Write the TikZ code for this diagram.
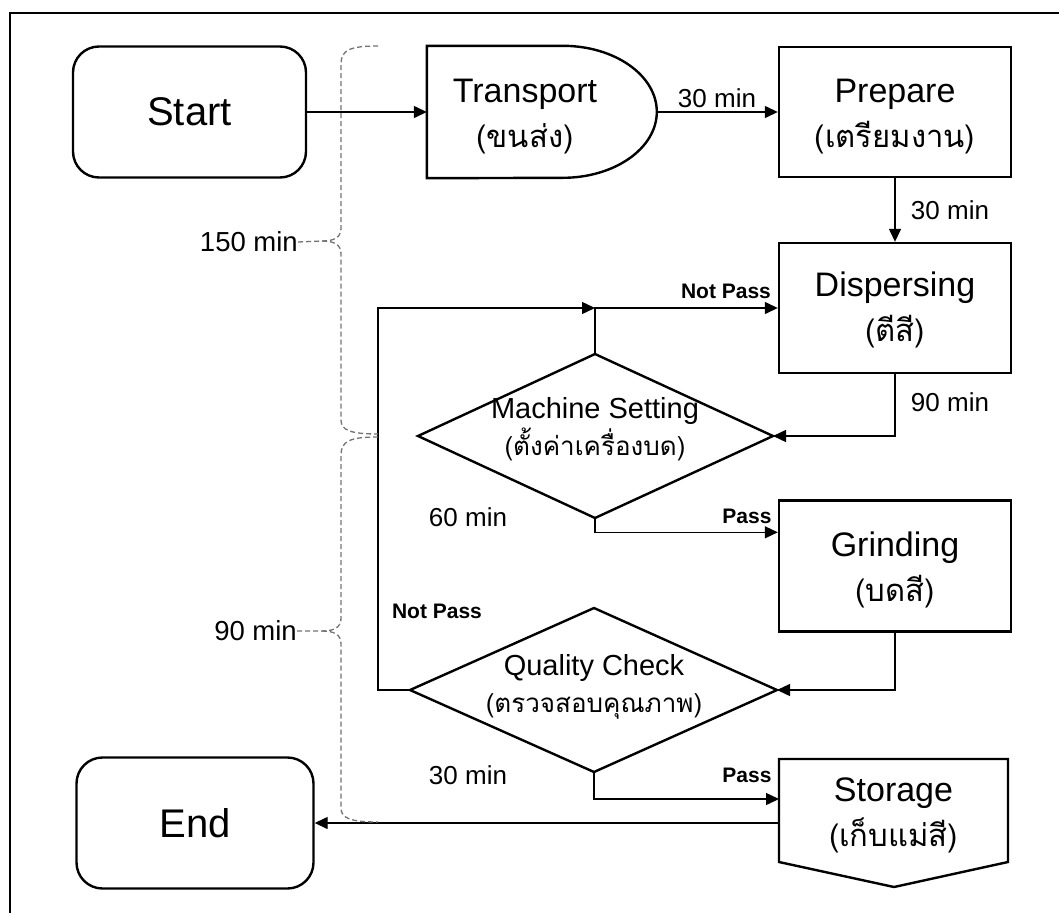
\documentclass[tikz,border=0pt]{standalone}
\usepackage{fontspec}
\setmainfont{Liberation Sans}
\newfontfamily\thaifont[Script=Thai]{Loma}
\usetikzlibrary{arrows.meta,calc}

\newcommand\termfont{\fontsize{40}{46}\selectfont}
\newcommand\bxfont{\fontsize{34}{45}\selectfont}
\newcommand\dmfont{\fontsize{29}{37}\selectfont}
\newcommand\minfont{\fontsize{26}{28}\selectfont}
\newcommand\bracefont{\fontsize{27.5}{30}\selectfont}
\newcommand\passfont{\fontsize{21}{24}\selectfont\bfseries}
\newcommand\thl[2]{{\thaifont\fontsize{#1}{#1}\selectfont #2}}

\begin{document}
\begin{tikzpicture}[x=1pt,y=-1pt,
  frame/.style={line width=2.6pt},
  shapeline/.style={line width=2.4pt, line join=miter},
  boxnode/.style={draw, line width=2.4pt, minimum width=232pt, minimum height=130pt, inner sep=0pt},
  termnode/.style={draw, line width=2.4pt, rounded corners=26pt, inner sep=0pt, font=\termfont},
  boxtext/.style={align=center, inner sep=0pt, font=\bxfont},
  dmtext/.style={align=center, inner sep=0pt, font=\dmfont},
  flow/.style={line width=1.4pt, -{Triangle[length=13pt,width=12pt]}},
  brace/.style={draw=black!55, dash pattern=on 5pt off 3pt, line width=1.3pt},
  tlabel/.style={font=\minfont, inner sep=0pt},
  blabel/.style={font=\bracefont, inner sep=0pt, anchor=east},
  plabel/.style={font=\passfont, inner sep=0pt}]

\useasboundingbox (0,0) rectangle (1059,913);

% outer frame
\draw[frame] (10,913) -- (10,13) -- (1059,13);

% terminals
\node[termnode, minimum width=233pt, minimum height=131pt] (start) at (189.5,112) {Start};
\node[termnode, minimum width=237pt, minimum height=131pt] (end) at (195,823) {End};

% transport (delay shape)
\node[inner sep=0pt, minimum width=230pt, minimum height=132pt] (transport) at (542,112) {};
\draw[shapeline] (transport.south west) -- (transport.north west)
  -- ($(transport.north west)+(136,0)$)
  arc[start angle=90, end angle=-90, x radius=94pt, y radius=66pt] -- cycle;
\node[boxtext] (transporttext) at (525,117) {Transport\\\thl{31}{(ขนส่ง)}};

% process boxes
\node[boxnode] (prepare) at (895,112) {};
\node[boxtext] (preparetext) at (895,117) {Prepare\\\thl{31}{(เตรียมงาน)}};
\node[boxnode] (dispersing) at (895,308) {};
\node[boxtext] (dispersingtext) at (895,309.5) {Dispersing\\\thl{31}{(ตีสี)}};
\node[boxnode, minimum height=131pt] (grinding) at (895,566) {};
\node[boxtext] (grindingtext) at (895,569.5) {Grinding\\\thl{31}{(บดสี)}};

% storage (off-page connector)
\coordinate (stnw) at (779,759);
\coordinate (stne) at (1008,759);
\coordinate (stse) at (1008,862);
\coordinate (stpt) at (894,887);
\coordinate (stsw) at (779,862);
\draw[shapeline] (stnw) -- (stne) -- (stse) -- (stpt) -- (stsw) -- cycle;
\node[boxtext] (storage) at (893.5,815.5) {Storage\\\thl{31}{(เก็บแม่สี)}};

% decisions
\coordinate (msl) at (418,436);
\coordinate (msr) at (773,436);
\coordinate (mst) at (595,354);
\coordinate (msb) at (595,518);
\draw[shapeline] (msl) -- (mst) -- (msr) -- (msb) -- cycle;
\node[dmtext] (ms) at (595,429) {Machine Setting\\\thl{26}{(ตั้งค่าเครื่องบด)}};

\coordinate (qcl) at (410,690);
\coordinate (qcr) at (777,690);
\coordinate (qct) at (594,608);
\coordinate (qcb) at (594,772);
\draw[shapeline] (qcl) -- (qct) -- (qcr) -- (qcb) -- cycle;
\node[dmtext] (qc) at (594,687) {Quality Check\\\thl{26}{(ตรวจสอบคุณภาพ)}};

% connectors
\draw[flow] (start.east) -- (transport.west);
\draw[flow] (transport.east) -- (prepare.west);
\draw[flow] (prepare.south) -- (dispersing.north);
\draw[flow] (dispersing.south) |- (msr);
\draw[flow] (mst) |- (dispersing.west);
\coordinate (loop) at (378,308);
\draw[flow] (qcl) -| (loop) -- (mst |- loop);
\path (grinding.north west) ++(0,33) coordinate (gin);
\draw[flow] (msb) |- (gin);
\draw[flow] (grinding.south) |- (qcr);
\path (stnw) ++(0,40) coordinate (sin);
\draw[flow] (qcb) |- (sin);
\path (stnw) ++(0,64) coordinate (sout);
\draw[flow] (sout) -- (end.east);

% time labels
\node[tlabel] (t1) at (717,98) {30 min};
\node[tlabel] (t2) at (950,210) {30 min};
\node[tlabel] (t3) at (950,402) {90 min};
\node[tlabel] (t4) at (468,517) {60 min};
\node[tlabel] (t5) at (468,775) {30 min};
\node[plabel] (p1) at (726,291) {Not Pass};
\node[plabel] (p2) at (747,516) {Pass};
\node[plabel] (p3) at (437,611) {Not Pass};
\node[plabel] (p4) at (747,775) {Pass};
\node[blabel] (b1) at (298,242) {150 min};
\node[blabel] (b2) at (297,631) {90 min};

% braces
\draw[brace] (378,46) .. controls (350,46) and (341,50) .. (341,64) -- (341,228)
  .. controls (341,237) and (335,241) .. (322,241) -- (b1.east);
\draw[brace] (322,241) .. controls (335,241) and (341,245) .. (341,254) -- (341,420)
  .. controls (341,430) and (350,434) .. (378,434);
\draw[brace] (378,437) .. controls (350,437) and (341,441) .. (341,455) -- (341,618)
  .. controls (341,627) and (335,631) .. (322,631) -- (b2.east);
\draw[brace] (322,631) .. controls (335,631) and (341,635) .. (341,644) -- (341,808)
  .. controls (341,818) and (350,822) .. (378,822);
\end{tikzpicture}
\end{document}
